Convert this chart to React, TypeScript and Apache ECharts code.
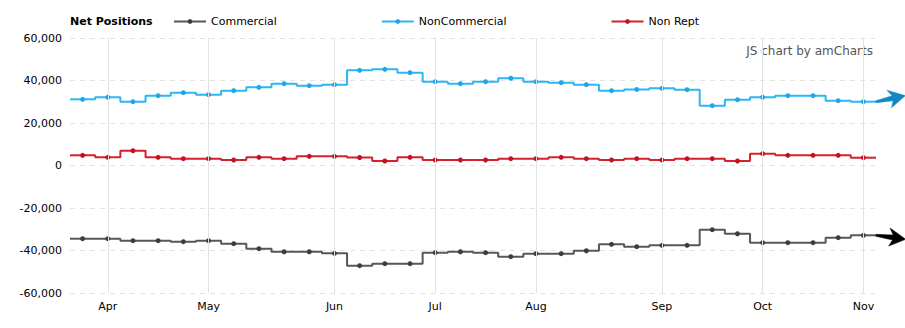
import React, { useEffect, useRef } from "react";
import * as echarts from "echarts";

const dates = [
  "2016-03-29", "2016-04-05", "2016-04-12", "2016-04-19", "2016-04-26",
  "2016-05-03", "2016-05-10", "2016-05-17", "2016-05-24", "2016-05-31",
  "2016-06-07", "2016-06-14", "2016-06-21", "2016-06-28",
  "2016-07-05", "2016-07-12", "2016-07-19", "2016-07-26",
  "2016-08-02", "2016-08-09", "2016-08-16", "2016-08-23", "2016-08-30",
  "2016-09-06", "2016-09-13", "2016-09-20", "2016-09-27",
  "2016-10-04", "2016-10-11", "2016-10-18", "2016-10-25",
  "2016-11-01",
];

const commercial = [
  -34450, -34450, -35390, -35390, -35860, -35390, -36800, -39150, -40570, -40570,
  -41320, -47150, -46210, -46210, -41040, -40570, -41040, -42920, -41510, -41510,
  -40100, -37080, -38210, -37550, -37550, -30210, -32100, -36330, -36330, -36330,
  -33980, -32850,
];

const nonCommercial = [
  31150, 32100, 30030, 32850, 34260, 33320, 35200, 36800, 38500, 37550,
  38020, 44800, 45270, 43670, 39440, 38500, 39440, 41040, 39440, 38970,
  38020, 35200, 35800, 36330, 35670, 28140, 30970, 32100, 32850, 32850,
  30500, 30020,
];

const nonRept = [
  4800, 3860, 6960, 3860, 3200, 3200, 2590, 3860, 3200, 4330,
  4330, 3750, 2120, 3860, 2590, 2590, 2590, 3200, 3200, 3860,
  3200, 2590, 3200, 2590, 3200, 3200, 2120, 5550, 4800, 4800,
  4800, 3670,
];

const monthNames = ["Jan", "Feb", "Mar", "Apr", "May", "Jun", "Jul", "Aug", "Sep", "Oct", "Nov", "Dec"];
const seriesNames = ["Commercial", "NonCommercial", "Non Rept"];
const lineColors = ["#575757", "#2db6f4", "#d4202f"];
const dotColors = ["#3d3d3d", "#1ea6e6", "#c4121f"];
const arrowColors = ["#000000", "#1288c2", "#000000"];

const FONT = "DejaVu Sans";

const monthStartIdx: number[] = [];
dates.forEach((d, i) => {
  if (i > 0 && d.slice(5, 7) !== dates[i - 1].slice(5, 7)) monthStartIdx.push(i);
});

function fmt(v: number) {
  return v.toLocaleString("en-US");
}

export default function App() {
  const ref = useRef<HTMLDivElement>(null);
  useEffect(() => {
    document.body.style.margin = "0";
    if (!ref.current) return;
    const chart = echarts.init(ref.current, undefined, { renderer: "svg" });
    const allData = [commercial, nonCommercial, nonRept];
    const option: any = {
      animation: false,
      textStyle: { fontFamily: FONT },
      title: {
        text: "Net Positions",
        left: 70,
        top: 16,
        padding: 0,
        textStyle: { fontFamily: FONT, fontSize: 11, fontWeight: "bold", color: "#000" },
      },
      legend: {
        data: seriesNames,
        left: 173,
        top: 16,
        padding: 0,
        itemWidth: 32,
        itemHeight: 6,
        itemGap: 104,
        textStyle: { fontFamily: FONT, fontSize: 11, color: "#000" },
      },
      grid: { left: 70, right: 29, top: 38, bottom: 35, containLabel: false, outerBoundsMode: "none" },
      xAxis: {
        type: "category",
        data: dates,
        boundaryGap: true,
        axisLine: { show: false },
        axisTick: { show: false },
        splitLine: { show: false },
        axisLabel: {
          interval: (i: number) => monthStartIdx.includes(i),
          formatter: (v: string) => monthNames[parseInt(v.slice(5, 7), 10) - 1],
          color: "#000",
          fontSize: 11,
          fontFamily: FONT,
          margin: 8,
        },
      },
      yAxis: {
        type: "value",
        min: -60000,
        max: 60000,
        interval: 20000,
        axisLine: { show: false },
        axisTick: { show: false },
        axisLabel: { formatter: (v: number) => fmt(v), color: "#000", fontSize: 11, fontFamily: FONT, margin: 8 },
        splitLine: { show: true, lineStyle: { color: "#e3e3e3", type: [5, 5], width: 1 } },
      },
      graphic: [],
      series: [
        {
          name: "monthGrid",
          type: "line",
          data: dates.map(() => null),
          z: 0,
          silent: true,
          markLine: {
            silent: true,
            symbol: "none",
            label: { show: false },
            lineStyle: { color: "#e2e2e2", type: "solid", width: 1 },
            data: monthStartIdx.map((i) => ({ xAxis: dates[i] })),
          },
        },
        ...seriesNames.map((name, k) => ({
          name,
          type: "line",
          step: "middle",
          data: allData[k],
          z: 3,
          symbol: "circle",
          symbolSize: 5,
          showSymbol: true,
          color: lineColors[k],
          itemStyle: { color: dotColors[k] },
          lineStyle: { color: lineColors[k], width: 2 },
        })),
      ],
    };
    chart.setOption(option);

    const px = (i: number, v: number) =>
      chart.convertToPixel({ xAxisIndex: 0, yAxisIndex: 0 }, [dates[i], v]) as number[];
    const n = dates.length;
    const step = px(1, 0)[0] - px(0, 0)[0];
    const graphics: any[] = [];
    const arrowDirs = [
      [30, 4],
      [29, -6],
      null,
    ];
    const shape = [
      [0, -1], [17, -2.5], [13, -9], [30, 0], [14, 9], [17, 2.5], [0, 1],
    ];
    allData.forEach((arr, k) => {
      const p0 = px(0, arr[0]);
      const pN = px(n - 1, arr[n - 1]);
      graphics.push({
        type: "line",
        z: 3,
        silent: true,
        shape: { x1: p0[0] - step / 2, y1: p0[1], x2: p0[0], y2: p0[1] },
        style: { stroke: lineColors[k], lineWidth: 2 },
      });
      graphics.push({
        type: "line",
        z: 3,
        silent: true,
        shape: { x1: pN[0], y1: pN[1], x2: pN[0] + step / 2, y2: pN[1] },
        style: { stroke: lineColors[k], lineWidth: 2 },
      });
      const dir = arrowDirs[k];
      if (dir) {
        const sx = pN[0] + step / 2;
        const sy = pN[1];
        const th = Math.atan2(dir[1], dir[0]);
        const c = Math.cos(th);
        const s = Math.sin(th);
        const pts = shape.map(([x, y]) => [sx + x * c - y * s, sy + x * s + y * c]);
        graphics.push({
          type: "polygon",
          z: 4,
          silent: true,
          shape: { points: pts },
          style: { fill: arrowColors[k], stroke: arrowColors[k], lineWidth: 0.5 },
        });
      }
    });
    graphics.push({
      type: "text",
      right: 32,
      top: 45,
      silent: true,
      style: { text: "JS chart by amCharts", fontFamily: FONT, fontSize: 12, fill: "#555" },
    });
    chart.setOption({ graphic: graphics });

    return () => chart.dispose();
  }, []);
  return <div ref={ref} style={{ width: 905, height: 328 }} />;
}
